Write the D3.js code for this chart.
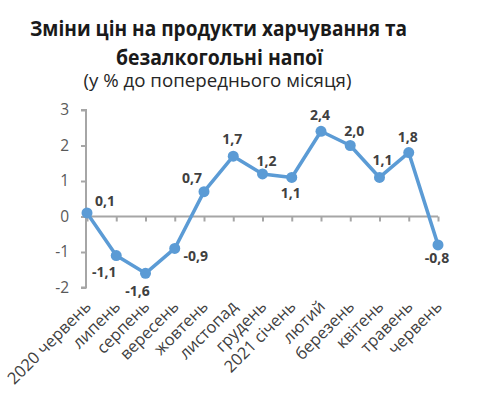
<!DOCTYPE html>
<html><head><meta charset="utf-8">
<script src="https://cdn.jsdelivr.net/npm/d3@7"></script>
<style>body{margin:0;background:#fff}svg{display:block}</style>
</head><body><svg id="c" width="480" height="393"></svg>
<script>
const categories = ["2020 червень","липень","серпень","вересень","жовтень","листопад","грудень","2021 січень","лютий","березень","квітень","травень","червень"];
const values = [0.1,-1.1,-1.6,-0.9,0.7,1.7,1.2,1.1,2.4,2.0,1.1,1.8,-0.8];
const valueLabels = ["0,1","-1,1","-1,6","-0,9","0,7","1,7","1,2","1,1","2,4","2,0","1,1","1,8","-0,8"];
const yTicks = [-2,-1,0,1,2,3];
const titleLines = ["Зміни цін на продукти харчування та","безалкогольні напої"];
const subtitle = "(у % до попереднього місяця)";
// label offsets (dx, dy) relative to point
const labelOffsets = [[18,-12],[-12,17],[-8,18],[21,8],[-12,-14],[-1,-17],[4,-13],[-1,16],[-1,-16],[4,-14],[3,-17],[-1,-16],[-1,13]];

const svg = d3.select("#c");
const font = "'Open Sans', 'Noto Sans', sans-serif";
const x = d3.scalePoint().domain(categories).range([87, 438]);
const y = d3.scaleLinear().domain([-2,3]).range([287.5, 110]);

function addText(txt, cx, by, fs, w, bold, fill){
  return svg.append("text").attr("x",cx).attr("y",by).attr("text-anchor","middle")
    .attr("font-family",font).attr("font-weight",bold?"bold":"normal").attr("font-size",fs)
    .attr("fill",fill).attr("textLength",w).attr("lengthAdjust","spacingAndGlyphs").text(txt);
}
addText(titleLines[0], 218.5, 36, 20.5, 377, true, "#1a1a1a");
addText(titleLines[1], 219.5, 65, 20.5, 207, true, "#1a1a1a");
addText(subtitle, 217.5, 87, 17.5, 268, false, "#262626");

// y axis
const yAxis = d3.axisLeft(y).tickValues(yTicks).tickSize(5).tickPadding(12).tickFormat(d=>String(d).replace("−","-"));
const gy = svg.append("g").attr("transform","translate(86,0)").call(yAxis);
gy.select(".domain").attr("stroke","#a6a6a6").attr("stroke-width",2).attr("d",`M-5,${y(3)}H0V${y(-2)}H-5`);
gy.selectAll(".tick line").attr("stroke","#a6a6a6").attr("stroke-width",2);
gy.selectAll(".tick text").attr("font-family",font).attr("font-size",15.5).attr("fill","#595959");

// x axis at zero
const xAxis = d3.axisBottom(x).tickSize(5).tickFormat("");
const gx = svg.append("g").attr("transform",`translate(0,${y(0)})`).call(xAxis);
gx.select(".domain").attr("stroke","#a6a6a6").attr("stroke-width",2).attr("d",`M86,0H${x(categories[12])}`);
gx.selectAll(".tick line").attr("stroke","#a6a6a6").attr("stroke-width",2);

// category labels at bottom
const cl = svg.append("g").selectAll("text").data(categories).join("text")
  .attr("transform",d=>`translate(${x(d)+1},${y(-2)+16}) rotate(-45)`)
  .attr("text-anchor","end").attr("dy","0.35em")
  .attr("font-family",font).attr("font-size",16).attr("fill","#404040").text(d=>d);
const l0 = cl.nodes()[0].getComputedTextLength();
cl.attr("font-size", 16*110/l0);

// line
const line = d3.line().x((d,i)=>x(categories[i])).y(d=>y(d));
svg.append("path").datum(values).attr("d",line).attr("fill","none").attr("stroke","#5b9bd5").attr("stroke-width",3.5).attr("stroke-linejoin","round");
svg.append("g").selectAll("circle").data(values).join("circle")
  .attr("cx",(d,i)=>x(categories[i])).attr("cy",d=>y(d)).attr("r",5.5).attr("fill","#5b9bd5");

// value labels
svg.append("g").selectAll("text").data(values).join("text")
  .attr("x",(d,i)=>x(categories[i])+labelOffsets[i][0]).attr("y",(d,i)=>y(d)+labelOffsets[i][1])
  .attr("text-anchor","middle").attr("dy","0.35em")
  .attr("font-family",font).attr("font-weight","bold").attr("font-size",14).attr("fill","#404040")
  .text((d,i)=>valueLabels[i]);
</script></body></html>
